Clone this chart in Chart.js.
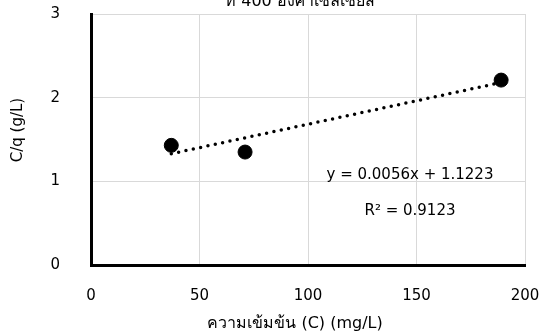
<!DOCTYPE html>
<html>
<head>
<meta charset="utf-8">
<script src="https://cdn.jsdelivr.net/npm/chart.js@4"></script>
<style>
  html, body { margin: 0; padding: 0; background: #fff; }
  #wrap { width: 541px; height: 335px; }
</style>
</head>
<body>
<div id="wrap"><canvas id="chart" width="541" height="335"></canvas></div>
<script>
// Langmuir plot data
const concC = [37, 71, 189];          // C (mg/L)
const cOverQ = [1.43, 1.35, 2.21];    // C/q (g/L)
const xTicks = [0, 50, 100, 150, 200];
const yTicks = [0, 1, 2, 3];

// Excel trendline as printed on the chart
const slope = 0.0056;
const intercept = 1.1223;
const rSquared = '0.9123';

const FONT = '"DejaVu Sans", Verdana, sans-serif';

const trendX = [concC[0], concC[concC.length - 1]];
const trendPoints = trendX.map(x => ({ x: x, y: slope * x + intercept }));

// Draws chart title, axis titles and the equation text
const textPlugin = {
  id: 'texts',
  afterDraw(chart) {
    const ctx = chart.ctx;
    const xs = chart.scales.x, ys = chart.scales.y;
    ctx.save();
    ctx.fillStyle = '#000';
    ctx.textAlign = 'center';

    // title is cut off by the top edge in the original
    ctx.font = '16px ' + FONT;
    ctx.textBaseline = 'alphabetic';
    ctx.fillText('ที่ 400 องศาเซลเซียส', 300, 6);

    ctx.textBaseline = 'middle';
    ctx.font = '15px ' + FONT;
    ctx.fillText('y = 0.0056x + 1.1223', xs.getPixelForValue(147), ys.getPixelForValue(1.07));
    ctx.fillText('R² = ' + rSquared, xs.getPixelForValue(147), ys.getPixelForValue(0.65));

    ctx.font = '16px ' + FONT;
    ctx.fillText('ความเข้มข้น (C) (mg/L)', 295, 324);

    ctx.translate(18, 130);
    ctx.rotate(-Math.PI / 2);
    ctx.font = '15px ' + FONT;
    ctx.fillText('C/q (g/L)', 0, 0);
    ctx.restore();
  }
};

new Chart(document.getElementById('chart'), {
  type: 'scatter',
  data: {
    datasets: [
      {
        label: 'C/q',
        data: concC.map((x, i) => ({ x: x, y: cOverQ[i] })),
        backgroundColor: '#000',
        borderColor: '#000',
        pointRadius: 7,
        pointHoverRadius: 7
      },
      {
        type: 'line',
        label: 'Linear',
        data: trendPoints,
        borderColor: '#000',
        borderWidth: 3.5,
        borderDash: [0, 7.5],
        borderCapStyle: 'round',
        pointRadius: 0,
        fill: false
      }
    ]
  },
  options: {
    responsive: false,
    animation: false,
    events: [],
    layout: { autoPadding: false, padding: { top: 14, right: 16, left: 0, bottom: 0 } },
    plugins: {
      legend: { display: false },
      tooltip: { enabled: false }
    },
    scales: {
      x: {
        type: 'linear',
        min: 0,
        max: 200,
        afterBuildTicks: s => { s.ticks = xTicks.map(v => ({ value: v })); },
        afterFit: s => { s.height = 70; s.paddingLeft = 0; s.paddingRight = 0; },
        grid: { color: '#d9d9d9', lineWidth: 1, drawTicks: false },
        border: { color: '#000', width: 3 },
        ticks: { color: '#000', font: { family: FONT, size: 15 }, padding: 22, maxRotation: 0 }
      },
      y: {
        min: 0,
        max: 3,
        afterBuildTicks: s => { s.ticks = yTicks.map(v => ({ value: v })); },
        afterFit: s => { s.width = 91; s.paddingTop = 0; s.paddingBottom = 0; },
        grid: { color: '#d9d9d9', lineWidth: 1, drawTicks: false },
        border: { color: '#000', width: 3 },
        ticks: { color: '#000', font: { family: FONT, size: 15 }, padding: 31 }
      }
    }
  },
  plugins: [textPlugin]
});
</script>
</body>
</html>
